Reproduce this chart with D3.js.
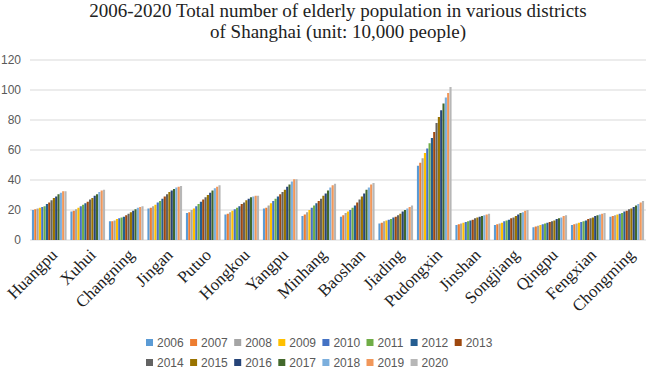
<!DOCTYPE html>
<html>
<head>
<meta charset="utf-8">
<script src="https://cdn.jsdelivr.net/npm/d3@7"></script>
<style>
  body { margin: 0; background: #fff; }
</style>
</head>
<body>
<script>
// districts and years
const districts = ["Huangpu", "Xuhui", "Changning", "Jingan", "Putuo", "Hongkou", "Yangpu", "Minhang",
    "Baoshan", "Jiading", "Pudongxin", "Jinshan", "Songjiang", "Qingpu", "Fengxian", "Chongming"];
const years = ["2006", "2007", "2008", "2009", "2010", "2011", "2012", "2013",
    "2014", "2015", "2016", "2017", "2018", "2019", "2020"];
const yTicks = [0, 20, 40, 60, 80, 100, 120];

// elderly population per district, 2006 .. 2020 (10,000 people)
const huangpu   = [20, 20.5, 21, 21.5, 22, 22.5, 24, 25, 26.5, 28, 29, 30.5, 31.5, 32.5, 32.5];
const xuhui     = [19, 19.5, 20.5, 21.5, 22.5, 23.5, 24.5, 25.5, 27, 28, 29.5, 30.5, 32, 33, 33.5];
const changning = [12.5, 12.5, 13, 14, 14.5, 15, 15.5, 16.5, 17.5, 18.5, 19.5, 20.5, 21.5, 22, 22.5];
const jingan    = [21, 21.5, 22.5, 23.5, 25, 26, 27.5, 29, 30.5, 32, 33, 34, 35, 35.5, 36];
const putuo     = [18, 18.5, 20, 21, 22.5, 24, 25.5, 27, 28.5, 30, 31.5, 33, 34.5, 35.5, 36.5];
const hongkou   = [17, 17.5, 18.5, 19.5, 20.5, 21.5, 22.5, 24, 25, 26.5, 27.5, 28.5, 29, 29.5, 29.5];
const yangpu    = [21, 21.5, 23, 24.5, 26, 27.5, 29, 30.5, 32, 33.5, 35.5, 37, 39, 40.5, 40.5];
const minhang   = [16, 17, 18.5, 20, 21.5, 23, 24.5, 26, 27.5, 29.5, 31, 33, 35, 36.5, 37.5];
const baoshan   = [15.5, 16.5, 18, 19, 20, 21.5, 23, 25, 27, 29, 31, 33.5, 35, 37, 38];
const jiading   = [11, 11.5, 12.5, 13, 13.5, 14, 15, 15.5, 16.5, 17.5, 19, 20, 21, 22, 23];
const pudongxin = [49.5, 51.5, 54.5, 58, 61, 64.5, 68, 72, 78, 82, 86.5, 91, 95, 98, 102];
const jinshan   = [10, 10.5, 11, 11.5, 12, 12.5, 13, 13.5, 14.5, 15, 15.5, 16, 16.5, 17, 17.5];
const songjiang = [10, 10.5, 11, 11.5, 12.5, 13, 13.5, 14.5, 15, 16, 17, 18, 18.5, 19.5, 20];
const qingpu    = [8.5, 9, 9.5, 10, 10.5, 11, 11.5, 12, 12.5, 13, 14, 14.5, 15, 16, 16.5];
const fengxian  = [10, 10.5, 11, 11.5, 12, 12.5, 13, 14, 14.5, 15, 16, 16.5, 17, 17.5, 18];
const chongming = [15.5, 16, 16.5, 17, 17.5, 18, 19, 19.5, 20.5, 21, 22, 23, 24, 25, 26];

const values = [huangpu, xuhui, changning, jingan, putuo, hongkou, yangpu, minhang,
    baoshan, jiading, pudongxin, jinshan, songjiang, qingpu, fengxian, chongming];

const colors = ["#5B9BD5", "#ED7D31", "#A5A5A5", "#FFC000", "#4472C4", "#70AD47", "#255E91", "#9E480E",
    "#636363", "#997300", "#264478", "#43682B", "#7CAFDD", "#F1975A", "#B7B7B7"];

const W = 646, H = 369;
const margin = {top: 60, right: 0, bottom: 129, left: 30};
const width = W - margin.left - margin.right,
      height = H - margin.top - margin.bottom;

const svg = d3.select("body").append("svg")
    .attr("width", W)
    .attr("height", H);

// title
svg.append("text")
    .attr("x", 338).attr("y", 17)
    .attr("text-anchor", "middle")
    .style("font-family", "'Liberation Serif', serif")
    .style("font-size", "19px")
    .style("fill", "#222")
    .text("2006-2020 Total number of elderly population in various districts");
svg.append("text")
    .attr("x", 338).attr("y", 38)
    .attr("text-anchor", "middle")
    .style("font-family", "'Liberation Serif', serif")
    .style("font-size", "19px")
    .style("fill", "#222")
    .text("of Shanghai (unit: 10,000 people)");

const g = svg.append("g")
    .attr("transform", `translate(${margin.left},${margin.top})`);

const x0 = d3.scaleBand().domain(districts).range([0, width]).paddingInner(0.09).paddingOuter(0.045);
const x1 = d3.scaleBand().domain(years).range([0, x0.bandwidth()]).padding(0.08);
const y = d3.scaleLinear().domain([0, 120]).range([height, 0]);

// gridlines
g.selectAll(".grid")
    .data(yTicks)
    .join("line")
    .attr("x1", 0).attr("x2", width)
    .attr("y1", d => y(d)).attr("y2", d => y(d))
    .attr("stroke", "#d9d9d9")
    .attr("stroke-width", 1);

// y labels
g.selectAll(".ylab")
    .data(yTicks)
    .join("text")
    .attr("x", -9).attr("y", d => y(d))
    .attr("dy", "0.35em")
    .attr("text-anchor", "end")
    .style("font-family", "'Liberation Sans', sans-serif")
    .style("font-size", "12px")
    .style("fill", "#595959")
    .text(d => d);

// bars
const groups = g.selectAll(".grp")
    .data(districts)
    .join("g")
    .attr("transform", d => `translate(${x0(d)},0)`);

groups.selectAll("rect")
    .data((d, i) => values[i].map((v, j) => ({year: years[j], v: v, c: colors[j]})))
    .join("rect")
    .attr("x", d => x1(d.year))
    .attr("width", x1.bandwidth())
    .attr("y", d => y(d.v))
    .attr("height", d => height - y(d.v))
    .attr("fill", d => d.c);

// x labels
g.selectAll(".xlab")
    .data(districts)
    .join("text")
    .attr("transform", d => `translate(${x0(d) + x0.bandwidth() / 2 + 9},${height + 16}) rotate(-45)`)
    .attr("text-anchor", "end")
    .style("font-family", "'Liberation Serif', serif")
    .style("font-size", "17px")
    .style("fill", "#222")
    .text(d => d);

// legend
const legend = svg.selectAll(".leg")
    .data(years)
    .join("g")
    .attr("transform", (d, i) => `translate(${146 + (i % 8) * 44.1},${343 + Math.floor(i / 8) * 20})`);
legend.append("rect")
    .attr("x", 0).attr("y", -4)
    .attr("width", 7).attr("height", 7)
    .attr("fill", (d, i) => colors[i]);
legend.append("text")
    .attr("x", 11).attr("y", 0)
    .attr("dy", "0.35em")
    .style("font-family", "'Liberation Sans', sans-serif")
    .style("font-size", "12px")
    .style("fill", "#595959")
    .text(d => d);
</script>
</body>
</html>
